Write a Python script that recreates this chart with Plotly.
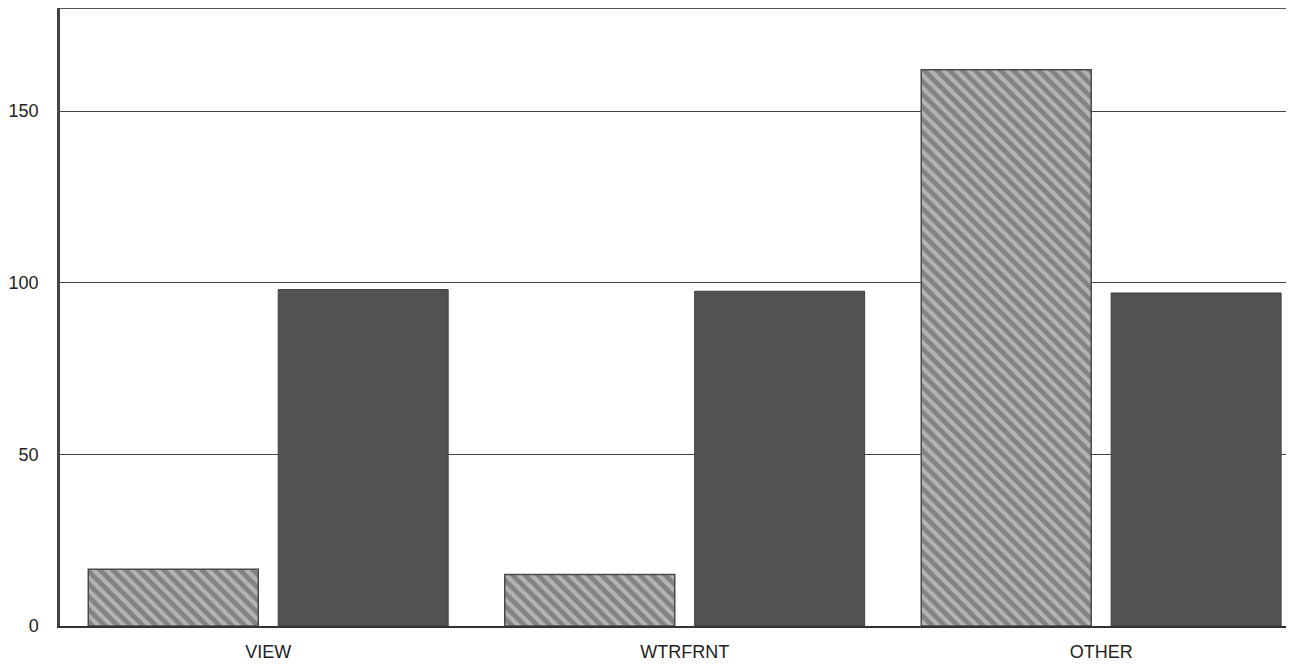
import plotly.graph_objects as go

categories = ["VIEW", "WTRFRNT", "OTHER"]
series_hatched = [16.5, 15, 162]
series_solid = [98, 97.5, 97]
y_ticks = [0, 50, 100, 150]

fig = go.Figure()
fig.add_trace(go.Bar(
    x=categories, y=series_hatched, name="hatched",
    marker=dict(color="#b0b0b0",
                line=dict(color="#4a4a4a", width=1.5),
                pattern=dict(shape="\\", fgcolor="#525252", bgcolor="#b4b4b4",
                             size=9, solidity=0.55)),
))
fig.add_trace(go.Bar(
    x=categories, y=series_solid, name="solid",
    marker=dict(color="#525252", line=dict(color="#404040", width=1)),
))

fig.add_shape(type="line", xref="paper", yref="y", x0=0, x1=1, y0=180, y1=180,
              line=dict(color="#555555", width=2))

fig.update_layout(
    width=1286, height=662,
    margin=dict(l=52, r=0, t=0, b=44),
    paper_bgcolor="white", plot_bgcolor="white",
    barmode="group", bargap=0.088, bargroupgap=0.105,
    showlegend=False,
    font=dict(family="Liberation Sans, Arial, sans-serif", size=18, color="#222222"),
    xaxis=dict(range=[-0.5, 2.463], showgrid=False, showline=True,
               linecolor="#333333", linewidth=2, ticks="", tickfont=dict(size=18),
               ticklabelstandoff=8),
    yaxis=dict(range=[0, 180], tickvals=y_ticks, showgrid=True,
               gridcolor="#444444", gridwidth=1.3, zeroline=False,
               showline=True, linecolor="#444444", linewidth=2.5,
               ticks="", ticklabelstandoff=15, tickfont=dict(size=18)),
)

fig.write_html("out.html")
